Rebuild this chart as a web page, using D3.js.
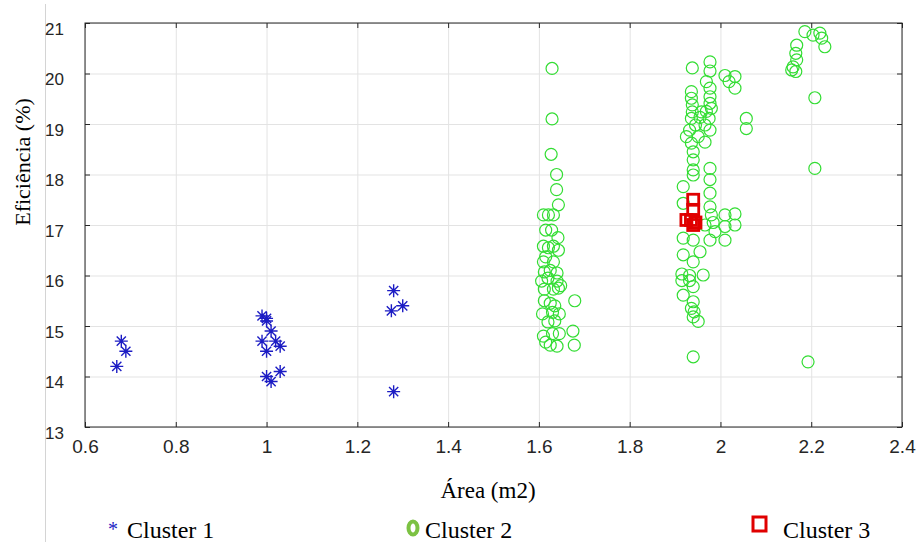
<!DOCTYPE html>
<html lang="pt">
<head>
<meta charset="UTF-8">
<title>Eficiência vs Área</title>
<script src="https://d3js.org/d3.v7.min.js"></script>
<style>
  body { margin: 0; background: #fff; }
  svg { display: block; }
  .tick text { fill: #262626; font-family: "Liberation Sans", Arial, sans-serif; }
  .serif { font-family: "Liberation Serif", "Times New Roman", serif; fill: #000; }
</style>
</head>
<body>
<script>
// data: [area m2, efficiency %]
const cluster1 = [
  [0.68, 14.7], [0.69, 14.5], [0.67, 14.2],
  [0.99, 15.2], [1.0, 15.15], [1.0, 15.1], [1.01, 14.9], [0.99, 14.7], [1.02, 14.7],
  [1.03, 14.6], [1.0, 14.5], [1.0, 14.0], [1.01, 13.9], [1.03, 14.1],
  [1.28, 15.7], [1.275, 15.3], [1.30, 15.4], [1.28, 13.7]
];

const cluster2 = [
  // around 1.6
  [1.629, 20.1], [1.629, 19.1], [1.627, 18.4], [1.639, 18.0], [1.639, 17.7], [1.643, 17.4],
  [1.610, 17.2], [1.621, 17.2], [1.632, 17.2],
  [1.615, 16.9], [1.628, 16.9], [1.642, 16.75],
  [1.610, 16.58], [1.621, 16.55], [1.632, 16.58], [1.643, 16.5],
  [1.615, 16.37], [1.610, 16.27], [1.632, 16.27],
  [1.612, 16.07], [1.625, 16.1], [1.640, 16.05],
  [1.606, 15.89], [1.620, 15.95], [1.640, 15.89], [1.648, 15.8],
  [1.612, 15.73], [1.632, 15.73], [1.643, 15.75],
  [1.612, 15.5], [1.625, 15.45], [1.635, 15.4],
  [1.608, 15.24], [1.630, 15.27], [1.645, 15.24],
  [1.620, 15.08], [1.635, 15.1],
  [1.610, 14.8], [1.630, 14.85], [1.645, 14.85],
  [1.615, 14.68], [1.625, 14.62], [1.640, 14.6],
  [1.679, 15.5], [1.675, 14.9], [1.678, 14.62],
  // around 1.95
  [1.938, 20.11], [1.977, 20.23], [1.977, 20.05], [2.010, 19.96], [2.032, 19.94], [2.019, 19.84], [2.032, 19.71],
  [1.969, 19.84], [1.977, 19.71], [1.977, 19.54], [1.977, 19.41], [1.980, 19.31],
  [1.936, 19.64], [1.936, 19.51], [1.938, 19.38],
  [1.938, 19.24], [1.958, 19.24], [1.969, 19.25],
  [1.936, 19.11], [1.955, 19.13], [1.975, 19.11],
  [1.945, 18.98], [1.966, 18.98],
  [1.932, 18.88], [1.977, 18.88],
  [1.925, 18.75], [1.951, 18.75],
  [1.936, 18.62], [1.966, 18.64],
  [1.940, 18.45], [1.940, 18.29], [1.940, 18.09], [1.977, 18.12],
  [2.057, 19.11], [2.057, 18.91],
  [1.940, 17.99], [1.977, 17.9], [1.977, 17.63], [1.918, 17.76], [1.918, 17.43], [1.977, 17.36],
  [1.980, 17.2], [2.010, 17.2], [2.032, 17.22],
  [1.966, 17.0], [1.984, 17.05], [2.010, 16.97], [2.032, 17.0],
  [1.988, 16.87], [2.010, 16.7], [1.977, 16.7], [1.918, 16.74], [1.940, 16.7],
  [1.955, 16.47], [1.918, 16.41], [1.940, 16.27], [1.962, 16.01],
  [1.915, 16.03], [1.932, 16.0], [1.915, 15.9], [1.932, 15.9], [1.940, 15.78],
  [1.918, 15.61], [1.940, 15.48], [1.936, 15.35], [1.942, 15.28], [1.940, 15.18], [1.951, 15.09],
  [1.940, 14.39],
  // around 2.2
  [2.186, 20.83], [2.219, 20.8], [2.204, 20.76], [2.223, 20.7], [2.230, 20.53],
  [2.168, 20.56], [2.166, 20.4], [2.168, 20.27], [2.160, 20.13], [2.157, 20.07], [2.166, 20.04],
  [2.208, 19.52], [2.208, 18.12], [2.193, 14.29]
];

const cluster3 = [
  [1.94, 17.5], [1.94, 17.3], [1.935, 17.1], [1.925, 17.1], [1.94, 17.0], [1.945, 17.05]
];

const xTicks = [0.6, 0.8, 1, 1.2, 1.4, 1.6, 1.8, 2, 2.2, 2.4];
const yTicks = [13, 14, 15, 16, 17, 18, 19, 20, 21];
const legendLabels = ["Cluster 1", "Cluster 2", "Cluster 3"];

const width = 919, height = 542;
const marginLeft = 85, plotRight = 902, marginTop = 23, plotBottom = 427;

const svg = d3.select("body").append("svg")
  .attr("width", width)
  .attr("height", height);

// faint border line at the left of the picture
svg.append("line")
  .attr("x1", 45.5).attr("x2", 45.5)
  .attr("y1", 4).attr("y2", height)
  .attr("stroke", "#d4d4d4");

const x = d3.scaleLinear().domain([0.6, 2.4]).range([marginLeft, plotRight]);
const y = d3.scaleLinear().domain([13, 21]).range([plotBottom, marginTop]);

// grid
svg.append("g")
  .attr("transform", `translate(0,${plotBottom})`)
  .call(d3.axisBottom(x).tickValues(xTicks).tickSize(-(plotBottom - marginTop)).tickFormat(""))
  .call(g => g.select(".domain").remove())
  .call(g => g.selectAll("line").attr("stroke", "#e3e3e3"));
svg.append("g")
  .attr("transform", `translate(${marginLeft},0)`)
  .call(d3.axisLeft(y).tickValues(yTicks).tickSize(-(plotRight - marginLeft)).tickFormat(""))
  .call(g => g.select(".domain").remove())
  .call(g => g.selectAll("line").attr("stroke", "#e3e3e3"));

// inward ticks on all four sides
const tickLen = 5;
[[d3.axisBottom(x), `translate(0,${plotBottom})`, xTicks],
 [d3.axisTop(x), `translate(0,${marginTop})`, xTicks],
 [d3.axisLeft(y), `translate(${marginLeft},0)`, yTicks],
 [d3.axisRight(y), `translate(${plotRight},0)`, yTicks]].forEach(([ax, tr, vals]) => {
  svg.append("g")
    .attr("transform", tr)
    .call(ax.tickValues(vals).tickSize(-tickLen).tickFormat(""))
    .call(g => g.select(".domain").remove())
    .call(g => g.selectAll("line").attr("stroke", "#262626"));
});

// tick labels
svg.append("g")
  .attr("transform", `translate(0,${plotBottom})`)
  .call(d3.axisBottom(x).tickValues(xTicks).tickSize(0).tickPadding(13).tickFormat(d3.format("~g")))
  .call(g => g.select(".domain").remove())
  .call(g => g.selectAll("text").attr("font-size", 19));
svg.append("g")
  .attr("transform", `translate(${marginLeft},0)`)
  .call(d3.axisLeft(y).tickValues(yTicks).tickSize(0).tickPadding(21))
  .call(g => g.select(".domain").remove())
  .call(g => g.selectAll("text").attr("font-size", 17).attr("dy", "0.75em").attr("y", -1.5));

// frame
svg.append("rect")
  .attr("x", marginLeft).attr("y", marginTop)
  .attr("width", plotRight - marginLeft).attr("height", plotBottom - marginTop)
  .attr("fill", "none").attr("stroke", "#262626");

// markers
const star = "M0,-6.5V6.5M-6.5,0H6.5M-4.6,-4.6L4.6,4.6M-4.6,4.6L4.6,-4.6";

svg.append("g")
  .selectAll("circle").data(cluster2).join("circle")
  .attr("cx", d => x(d[0]))
  .attr("cy", d => y(d[1]))
  .attr("r", 6)
  .attr("fill", "none")
  .attr("stroke", "#33dd33")
  .attr("stroke-width", 1.2);

svg.append("g")
  .selectAll("path").data(cluster1).join("path")
  .attr("transform", d => `translate(${x(d[0])},${y(d[1])})`)
  .attr("d", star)
  .attr("stroke", "#1c1cc4")
  .attr("stroke-width", 1.4)
  .attr("fill", "none");

svg.append("g")
  .selectAll("rect").data(cluster3).join("rect")
  .attr("x", d => x(d[0]) - 5.5)
  .attr("y", d => y(d[1]) - 5.5)
  .attr("width", 11).attr("height", 11)
  .attr("fill", "none")
  .attr("stroke", "#e00000")
  .attr("stroke-width", 2.8);

// axis titles
svg.append("text")
  .attr("class", "serif")
  .attr("x", 488).attr("y", 498)
  .attr("text-anchor", "middle")
  .attr("font-size", 23)
  .text("Área (m2)");

svg.append("text")
  .attr("class", "serif")
  .attr("transform", "translate(30,162) rotate(-90)")
  .attr("text-anchor", "middle")
  .attr("font-size", 22)
  .text("Eficiência (%)");

// legend
const leg = svg.append("g").attr("class", "legend");
leg.append("text")
  .attr("x", 108).attr("y", 536).attr("font-size", 20)
  .style("font-family", "'Liberation Serif', serif")
  .style("fill", "#1c1cc4")
  .text("*");
leg.append("ellipse")
  .attr("cx", 413).attr("cy", 528).attr("rx", 4.5).attr("ry", 6.5)
  .attr("fill", "none").attr("stroke", "#7cc243").attr("stroke-width", 4);
leg.append("rect")
  .attr("x", 753).attr("y", 517).attr("width", 13).attr("height", 14)
  .attr("fill", "none").attr("stroke", "#e00000").attr("stroke-width", 3);
leg.selectAll("text.lab").data(legendLabels).join("text")
  .attr("class", "serif lab")
  .attr("x", (d, i) => [127, 425, 783][i])
  .attr("y", 538)
  .attr("font-size", 24)
  .text(d => d);
</script>
</body>
</html>
